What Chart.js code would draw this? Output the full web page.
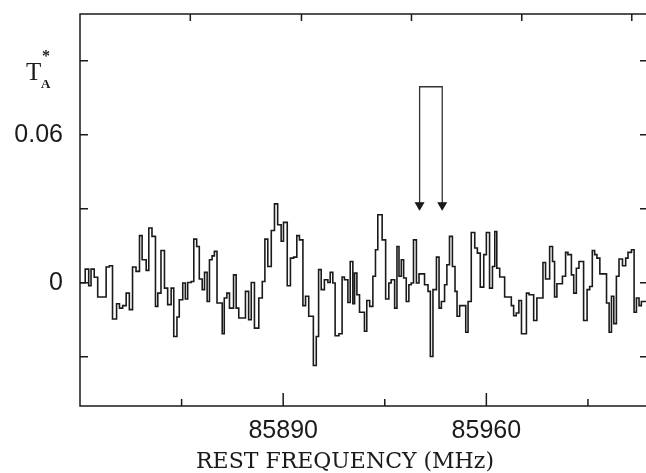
<!DOCTYPE html>
<html>
<head>
<meta charset="utf-8">
<script src="https://cdn.jsdelivr.net/npm/chart.js@4"></script>
<style>
  html, body { margin: 0; padding: 0; background: #fff; }
  #wrap { width: 646px; height: 473px; }
</style>
</head>
<body>
<div id="wrap"><canvas id="spectrum" width="646" height="473"></canvas></div>
<script>
// start frequency of each step (MHz), last entry closes the final step
const freqs = [
  85820.1, 85821.8, 85823.0, 85823.8, 85824.9, 85826.1, 85829.0, 85830.1, 85831.2, 85832.6,
  85833.6, 85834.7, 85835.9, 85837.0, 85838.1, 85839.3, 85840.5, 85841.4, 85842.8, 85843.7,
  85844.8, 85846.0, 85846.8, 85847.9, 85849.1, 85850.2, 85851.4, 85852.3, 85853.4, 85854.2,
  85855.4, 85856.3, 85857.1, 85858.3, 85859.2, 85860.2, 85861.1, 85862.1, 85862.9, 85863.8,
  85864.6, 85865.5, 85866.3, 85867.2, 85869.0, 85869.7, 85870.6, 85871.5, 85872.9, 85873.8,
  85874.7, 85877.0, 85878.1, 85879.0, 85880.1, 85881.6, 85882.8, 85883.7, 85884.7, 85885.9,
  85887.0, 85888.1, 85889.3, 85890.1, 85891.4, 85892.5, 85893.6, 85894.7, 85895.6, 85896.8,
  85897.7, 85898.8, 85900.4, 85901.4, 85902.2, 85903.1, 85904.2, 85905.4, 85906.2, 85907.1,
  85907.9, 85909.2, 85910.3, 85911.1, 85912.3, 85913.1, 85914.0, 85914.6, 85915.4, 85916.3,
  85918.0, 85918.8, 85919.8, 85920.9, 85921.8, 85922.6, 85924.1, 85925.3, 85926.4, 85927.2,
  85928.4, 85929.2, 85929.9, 85930.7, 85931.5, 85932.4, 85933.3, 85934.1, 85934.9, 85935.9,
  85936.8, 85938.7, 85939.9, 85940.7, 85941.6, 85942.8, 85943.7, 85944.5, 85945.6, 85946.4,
  85947.3, 85948.3, 85949.2, 85949.9, 85950.8, 85952.9, 85953.7, 85954.8, 85956.0, 85956.9,
  85957.9, 85959.1, 85960.0, 85961.1, 85962.1, 85962.9, 85963.6, 85964.6, 85966.3, 85968.6,
  85969.4, 85970.3, 85971.2, 85972.1, 85973.8, 85974.7, 85976.3, 85977.4, 85979.5, 85980.4,
  85981.8, 85982.8, 85983.5, 85984.3, 85986.2, 85987.3, 85988.1, 85989.3, 85990.1, 85991.0,
  85991.9, 85993.5, 85994.7, 85995.6, 85996.5, 85997.3, 85998.1, 85999.1, 86001.4, 86002.3,
  86003.1, 86003.9, 86004.8, 86005.7, 86006.9, 86008.0, 86008.8, 86010.0, 86010.9, 86011.7,
  86012.6, 86013.4, 86015.0
];

// antenna temperature T_A* (K) of each step
const temps = [
  0.0000, 0.0055, -0.0012, 0.0055, 0.0022, -0.0058, 0.0064, 0.0069, -0.0147, -0.0085,
  -0.0103, -0.0093, -0.0042, -0.0109, 0.0064, 0.0046, 0.0191, 0.0093, 0.0050, 0.0222,
  0.0188, -0.0096, -0.0042, 0.0131, -0.0022, -0.0089, -0.0022, -0.0218, -0.0139, -0.0069,
  -0.0001, -0.0066, 0.0001, 0.0005, 0.0177, 0.0147, 0.0015, -0.0028, 0.0042, -0.0076,
  0.0093, 0.0109, 0.0127, -0.0082, -0.0207, -0.0062, -0.0042, -0.0103, 0.0032, -0.0103,
  -0.0143, -0.0035, -0.0150, 0.0001, -0.0184, -0.0062, 0.0005, 0.0177, 0.0066, 0.0212,
  0.0320, 0.0235, 0.0168, 0.0245, -0.0012, 0.0100, 0.0104, 0.0191, 0.0174, -0.0093,
  -0.0055, -0.0136, -0.0336, -0.0218, 0.0053, -0.0028, 0.0012, 0.0001, 0.0042, -0.0001,
  -0.0215, -0.0207, 0.0023, 0.0012, -0.0080, 0.0086, -0.0085, 0.0039, -0.0049, -0.0120,
  -0.0197, -0.0072, -0.0096, 0.0026, 0.0134, 0.0276, 0.0174, -0.0066, -0.0001, 0.0012,
  -0.0103, 0.0147, 0.0026, 0.0093, 0.0019, -0.0076, -0.0008, -0.0001, 0.0174, -0.0001,
  0.0036, -0.0008, -0.0035, -0.0299, -0.0028, 0.0104, -0.0103, -0.0076, -0.0008, 0.0073,
  0.0188, 0.0066, -0.0035, -0.0136, -0.0093, -0.0201, -0.0076, 0.0204, 0.0141, 0.0120,
  -0.0018, 0.0114, 0.0204, -0.0022, 0.0066, 0.0208, 0.0059, 0.0023, -0.0058, -0.0093,
  -0.0134, -0.0123, -0.0072, -0.0207, -0.0042, -0.0049, -0.0153, -0.0062, 0.0082, 0.0015,
  0.0147, 0.0086, -0.0058, -0.0004, 0.0026, 0.0123, 0.0114, 0.0032, -0.0042, 0.0059,
  0.0086, -0.0153, -0.0028, -0.0015, 0.0131, 0.0114, 0.0100, 0.0036, -0.0082, -0.0201,
  -0.0055, -0.0166, 0.0026, 0.0096, 0.0069, 0.0100, 0.0123, 0.0134, -0.0120, -0.0062,
  -0.0093, -0.0076, -0.0076
];

const xTicks = [85855, 85890, 85925, 85960, 85995];
const xLabels = [85890, 85960];
const topTicks = [85858.0, 85896.3, 85934.2, 85972.2, 86010.1];
const yTicks = [-0.03, 0, 0.03, 0.06, 0.09];
const yLabels = ['0', '0.06'];
const xTitle = 'REST FREQUENCY (MHz)';

// line markers (arrows)
const arrowFreqs = [85937.0, 85944.8];
const arrowTop = 0.0795;
const arrowTip = 0.0315;

const ink = '#1a1a1a';

const framePlugin = {
  id: 'frame',
  afterDatasetsDraw(chart) {
    const { ctx, chartArea: a, scales: { x, y } } = chart;
    ctx.save();
    ctx.strokeStyle = ink;
    ctx.lineWidth = 1.5;
    ctx.beginPath();
    ctx.moveTo(a.right + 2, a.top);
    ctx.lineTo(a.left, a.top);
    ctx.lineTo(a.left, a.bottom);
    ctx.lineTo(a.right + 2, a.bottom);
    yTicks.forEach(v => {
      const py = y.getPixelForValue(v);
      ctx.moveTo(a.left, py); ctx.lineTo(a.left + 8, py);
      ctx.moveTo(a.right, py); ctx.lineTo(a.right - 6, py);
    });
    xTicks.forEach(v => {
      const px = x.getPixelForValue(v);
      const len = xLabels.includes(v) ? 13 : 7;
      ctx.moveTo(px, a.bottom); ctx.lineTo(px, a.bottom - len);
    });
    topTicks.forEach(v => {
      const px = x.getPixelForValue(v);
      ctx.moveTo(px, a.top); ctx.lineTo(px, a.top + 7);
    });
    ctx.stroke();

    ctx.fillStyle = ink;
    ctx.textBaseline = 'alphabetic';
    // axis name T_A*
    ctx.font = '25px "Liberation Serif"';
    ctx.fillText('T', 26, 80);
    ctx.font = 'bold 13px "Liberation Serif"';
    ctx.fillText('A', 41, 88);
    ctx.font = 'bold 16px "Liberation Serif"';
    ctx.fillText('*', 42, 61);
    // x axis title
    ctx.textAlign = 'center';
    ctx.font = '22px "DejaVu Serif"';
    ctx.fillText(xTitle, 345, 468);
    ctx.restore();
  }
};

const ctx = document.getElementById('spectrum').getContext('2d');
const spectrumChart = new Chart(ctx, {
  type: 'line',
  data: {
    datasets: [{
      data: freqs.map((f, i) => ({ x: f, y: temps[i] })),
      stepped: 'before',
      borderColor: ink,
      borderWidth: 1.6,
      pointRadius: 0,
      fill: false
    }, {
      data: [
        { x: arrowFreqs[0], y: arrowTip },
        { x: arrowFreqs[0], y: arrowTop },
        { x: arrowFreqs[1], y: arrowTop },
        { x: arrowFreqs[1], y: arrowTip }
      ],
      borderColor: '#333',
      borderWidth: 1.3,
      pointStyle: 'triangle',
      rotation: 180,
      pointRadius: [4.5, 0, 0, 4.5],
      pointBackgroundColor: ink,
      pointBorderColor: ink,
      fill: false
    }]
  },
  plugins: [framePlugin],
  options: {
    responsive: false,
    animation: false,
    layout: { autoPadding: false, padding: { top: 14, right: 0, left: 0, bottom: 0 } },
    plugins: {
      legend: { display: false },
      tooltip: { enabled: false }
    },
    scales: {
      x: {
        type: 'linear',
        min: 85820,
        max: 86015,
        afterBuildTicks: s => { s.ticks = xTicks.map(v => ({ value: v })); },
        afterFit: s => { s.height = 67; s.paddingLeft = 0; s.paddingRight = 0; },
        grid: { display: false, drawTicks: false },
        border: { display: false },
        ticks: {
          padding: 10,
          maxRotation: 0,
          autoSkip: false,
          color: ink,
          font: { family: 'Liberation Sans', size: 25 },
          callback: v => xLabels.includes(v) ? String(v) : ''
        }
      },
      y: {
        min: -0.05,
        max: 0.109,
        afterBuildTicks: s => { s.ticks = yTicks.map(v => ({ value: v })); },
        afterFit: s => { s.width = 80; s.paddingTop = 0; s.paddingBottom = 0; },
        grid: { display: false, drawTicks: false },
        border: { display: false },
        ticks: {
          padding: 17,
          color: ink,
          font: { family: 'Liberation Sans', size: 25 },
          callback: v => {
            const s = v === 0 ? '0' : String(+v.toFixed(2));
            return yLabels.includes(s) ? s : '';
          }
        }
      }
    }
  }
});
</script>
</body>
</html>
